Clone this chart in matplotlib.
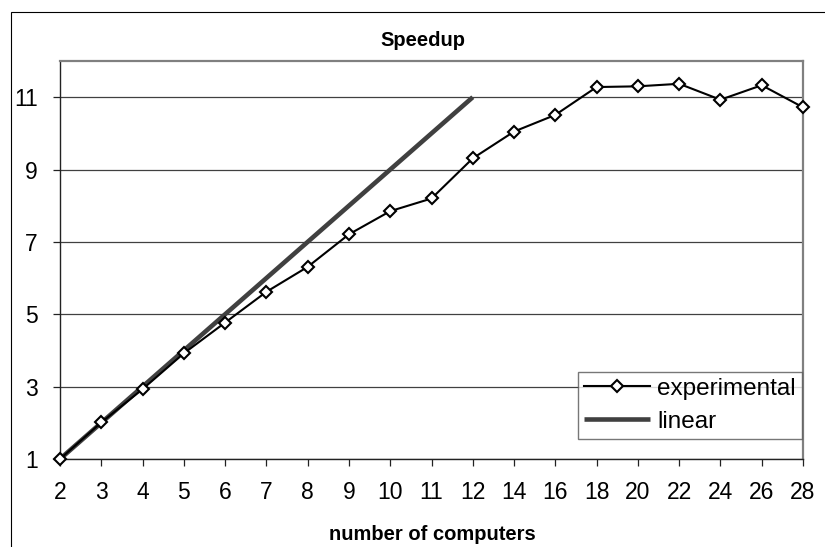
import matplotlib
matplotlib.use("Agg")
import matplotlib.pyplot as plt
from matplotlib.patches import Rectangle

plt.rcParams['font.family'] = ['Liberation Sans', 'DejaVu Sans']

# Number of computers (category axis) and measured speedup
computers = ["2", "3", "4", "5", "6", "7", "8", "9", "10", "11", "12",
             "14", "16", "18", "20", "22", "24", "26", "28"]
experimental = [1.0, 2.01, 2.93, 3.92, 4.77, 5.62, 6.31, 7.21, 7.85, 8.20,
                9.31, 10.05, 10.51, 11.28, 11.30, 11.37, 10.93, 11.33, 10.72]
# Ideal linear speedup, drawn for the first eleven categories
linear = [1, 2, 3, 4, 5, 6, 7, 8, 9, 10, 11]
y_ticks = [1, 3, 5, 7, 9, 11]

W, H = 825, 547
fig = plt.figure(figsize=(W / 100, H / 100), dpi=100)

# chart-area frame
fig.patches.append(Rectangle((10.5 / W, -0.2), 1.2, 1 - 11.5 / H + 0.2,
                             transform=fig.transFigure, fill=False,
                             edgecolor='black', linewidth=0.8))

ax = fig.add_axes([60 / W, 1 - 459 / H, 743 / W, 398 / H])

xpos = list(range(len(computers)))
ax.plot(xpos[:len(linear)], linear, color='#404040', linewidth=3.3,
        solid_capstyle='butt', label='linear', zorder=3)
ax.plot(xpos, experimental, color='black', linewidth=1.5, marker='D',
        markersize=6.5, markerfacecolor='white', markeredgecolor='black',
        markeredgewidth=1.5, label='experimental', clip_on=False, zorder=4)

ax.set_xlim(0, len(computers) - 1)
ax.set_ylim(1, 12)
ax.set_xticks(xpos)
ax.set_xticklabels(computers)
ax.set_yticks(y_ticks)

ax.yaxis.grid(True, color='#404040', linewidth=0.9)
ax.set_axisbelow(True)

for side in ('top', 'right'):
    ax.spines[side].set_color('#808080')
    ax.spines[side].set_linewidth(1.6)
for side in ('left', 'bottom'):
    ax.spines[side].set_color('#222222')
    ax.spines[side].set_linewidth(1.0)

ax.tick_params(axis='both', direction='out', length=5, width=0.9,
               color='#222222', labelsize=16.5, labelcolor='black')
ax.tick_params(axis='x', pad=11)
ax.tick_params(axis='y', pad=11)

fig.text(423 / W, 1 - 46 / H, "Speedup", ha='center', va='baseline',
         fontsize=14.5, fontweight='bold')
fig.text(432 / W, 1 - 540.5 / H, "number of computers", ha='center',
         va='baseline', fontsize=14.5, fontweight='bold')

handles, labels = ax.get_legend_handles_labels()
leg = ax.legend(handles[::-1], labels[::-1], loc='lower right',
                bbox_to_anchor=(802 / W, 1 - 439 / H),
                bbox_transform=fig.transFigure, fontsize=17.5,
                frameon=True, fancybox=False, borderaxespad=0,
                borderpad=0.25, handlelength=2.7, handletextpad=0.3,
                labelspacing=0.45)
leg.get_frame().set_edgecolor('#555555')
leg.get_frame().set_linewidth(1.0)
leg.set_zorder(5)

fig.savefig("out.png", dpi=100)
